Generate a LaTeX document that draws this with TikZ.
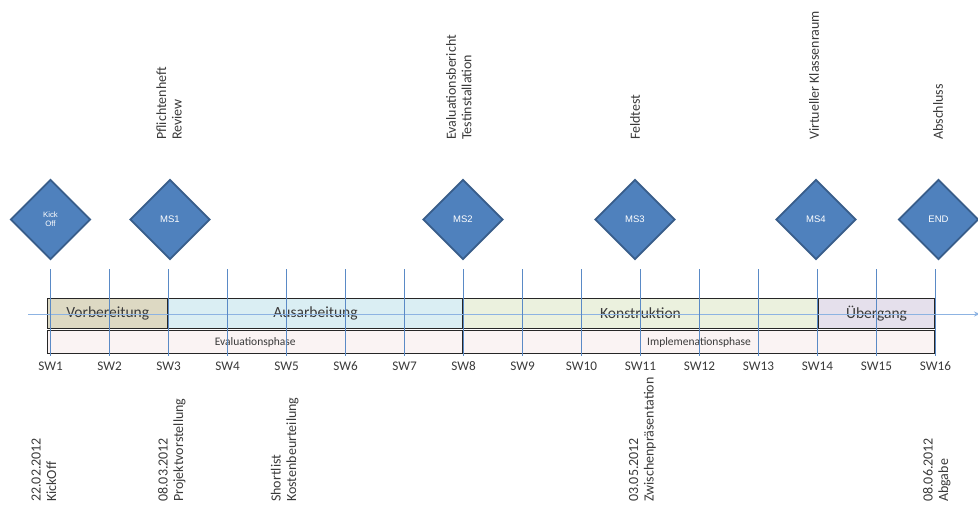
\documentclass[tikz,border=0pt]{standalone}
\usepackage{fontspec}
\setmainfont{Carlito}
\newfontfamily\arialf{Liberation Sans}
\usetikzlibrary{shapes.geometric,arrows.meta}
\definecolor{msfill}{HTML}{4F81BD}
\definecolor{msdraw}{HTML}{385D8A}
\definecolor{gridblue}{HTML}{5A8AC6}
\definecolor{axisblue}{HTML}{8DB3E2}
\definecolor{vorbc}{HTML}{DDD9C3}
\definecolor{ausac}{HTML}{DAEEF3}
\definecolor{konsc}{HTML}{EBF1DE}
\definecolor{uebec}{HTML}{E5E0EC}
\definecolor{phasec}{HTML}{FAF3F3}
\definecolor{txt}{HTML}{3A3A3A}
\definecolor{boxline}{HTML}{262626}
\tikzset{
  milestone/.style={diamond, draw=msdraw, fill=msfill, line width=1.8pt,
    minimum width=80pt, minimum height=80pt, inner sep=0pt, text=white,
    font=\arialf\fontsize{9.5}{10.5}\selectfont, align=center},
  phasebox/.style={draw=boxline, line width=1.1pt, inner sep=0pt, text=txt,
    font=\fontsize{15.5}{17}\selectfont},
  subphase/.style={draw=boxline, line width=1.1pt, inner sep=0pt, text=txt,
    fill=phasec, font=\fontsize{11.5}{13}\selectfont},
  weeklabel/.style={text=txt, inner sep=0pt, font=\fontsize{13.2}{15}\selectfont},
  uplabel/.style={rotate=90, anchor=west, align=left, inner sep=0pt, text=txt,
    font=\fontsize{14}{15.5}\selectfont},
  gridline/.style={draw=gridblue, line width=0.8pt},
  axisline/.style={draw=axisblue, line width=1pt, -{Stealth[length=6pt,width=5pt]}}
}
\begin{document}
\begin{tikzpicture}[x=1pt,y=-1pt]
\useasboundingbox (0,0) rectangle (978,507);

% phase boxes (top row)
\node[phasebox, fill=vorbc, minimum width=120.5pt, minimum height=30pt] (vorb) at (107.75,313.3) {Vorbereitung};
\node[phasebox, fill=ausac, minimum width=295pt, minimum height=30pt] (ausa) at (315.5,313.3) {Ausarbeitung};
\node[phasebox, fill=konsc, minimum width=355pt, minimum height=30pt] (kons) at (640.5,313.3) {Konstruktion};
\node[phasebox, fill=uebec, minimum width=117pt, minimum height=30pt] (uebe) at (876.5,313.3) {Übergang};
% phase boxes (bottom row)
\node[subphase, minimum width=415.5pt, minimum height=22.6pt] (evalp) at (255.25,342) {Evaluationsphase};
\node[subphase, minimum width=472pt, minimum height=22.6pt] (implp) at (699,342) {Implemenationsphase};

% axis
\coordinate (axstart) at (28,314);
\coordinate (axend) at (980,314);
\draw[axisline] (axstart) -- (axend);

% week grid lines and labels
\foreach \k in {1,...,16} {
  \pgfmathsetmacro{\xx}{50.5+(\k-1)*59}
  \coordinate (gt\k) at (\xx,269);
  \coordinate (gb\k) at (\xx,356);
  \draw[gridline] (gt\k) -- (gb\k);
  \node[weeklabel] (sw\k) at (\xx,366.5) {SW\k};
}

% milestones
\node[milestone, font=\arialf\fontsize{7.8}{8.8}\selectfont] (kick) at (50.5,219.5) {Kick\\Off};
\node[milestone] (ms1) at (170,219.5) {MS1};
\node[milestone] (ms2) at (463,219.5) {MS2};
\node[milestone] (ms3) at (635,219.5) {MS3};
\node[milestone] (ms4) at (816,219.5) {MS4};
\node[milestone] (msend) at (938.5,219.5) {END};

% upper labels
\node[uplabel] (l1) at (169,140) {Pflichtenheft\\Review};
\node[uplabel] (l2) at (458.7,140) {Evaluationsbericht\\Testinstallation};
\node[uplabel] (l3) at (635,140) {Feldtest};
\node[uplabel] (l4) at (814,140) {Virtueller Klassenraum};
\node[uplabel] (l5) at (938,140) {Abschluss};

% lower labels
\node[uplabel] (b1) at (43.8,502) {22.02.2012\\KickOff};
\node[uplabel] (b2) at (171.7,502) {08.03.2012\\Projektvorstellung};
\node[uplabel] (b3) at (284.8,502) {Shortlist\\Kostenbeurteilung};
\node[uplabel] (b4) at (642.5,502) {03.05.2012\\Zwischenpräsentation};
\node[uplabel] (b5) at (936.8,502) {08.06.2012\\Abgabe};
\end{tikzpicture}
\end{document}
